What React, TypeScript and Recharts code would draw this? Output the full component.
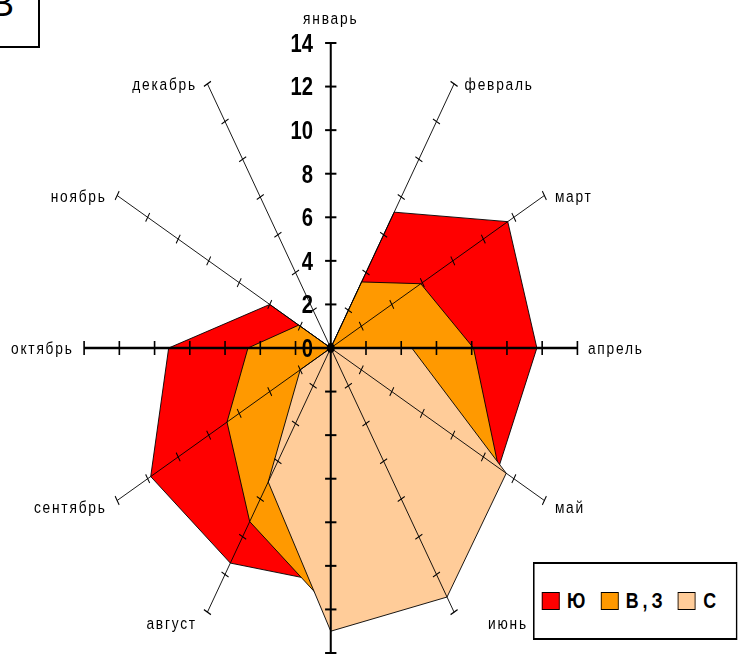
import React from "react";
import {
  RadarChart,
  Radar,
  PolarAngleAxis,
  PolarRadiusAxis,
  Legend,
} from "recharts";

// months clockwise from the top
const MONTHS = [
  "январь",
  "февраль",
  "март",
  "апрель",
  "май",
  "июнь",
  "июль",
  "август",
  "сентябрь",
  "октябрь",
  "ноябрь",
  "декабрь",
];

// Ю
const SOUTH = [0, 7.2, 11.6, 11.7, 11, 10, 10.8, 11.4, 11.8, 9.2, 4.0, 0];
// В,З
const EAST_WEST = [0, 3.5, 5.9, 8.1, 11, 11, 12, 9.2, 6.8, 4.7, 2.1, 0];
// С
const NORTH = [0, 0, 0, 4.6, 11.5, 13.2, 13, 7.1, 2.0, 0, 0, 0];

const VALUE_MAX = 14;

const SERIES = [
  { key: "yu", name: "Ю", color: "#FF0000", values: SOUTH },
  { key: "vz", name: "В,З", color: "#FF9900", values: EAST_WEST },
  { key: "s", name: "С", color: "#FFCC99", values: NORTH },
];

const data = MONTHS.map((month, i) => {
  const row: Record<string, string | number> = { month };
  SERIES.forEach((s) => {
    row[s.key] = s.values[i];
  });
  return row;
});

// the original picture is squeezed horizontally, so the chart is drawn
// round and then scaled on x
const SCALE_X = 0.8087;
const W = 915;
const H = 655;
const CX = 409;
const CY = 348;
const R = 305;
const RAD = Math.PI / 180;
const FONT = "'Liberation Sans', Arial, sans-serif";

function makeRadiusTick(angle: number, main: boolean, labelled: boolean) {
  return function RadiusTick(props: any) {
    const { x, y, payload } = props;
    const v = payload.value;
    const px = Math.sin(angle * RAD);
    const py = Math.cos(angle * RAD);
    const h = main ? 7 : 5;
    return (
      <g>
        {v > 0 && (
          <line
            x1={x - px * h}
            y1={y - py * h}
            x2={x + px * h}
            y2={y + py * h}
            stroke="#000"
            strokeWidth={main ? 2 : 1.2}
          />
        )}
        {labelled && (
          <text
            x={x - 22}
            y={y}
            textAnchor="end"
            dominantBaseline="central"
            fontSize={25}
            fontWeight="bold"
            fontFamily={FONT}
            fill="#000">
            {v}
          </text>
        )}
        {labelled && v === 0 && <circle cx={x} cy={y} r={5} fill="#000" />}
      </g>
    );
  };
}

function MonthTick(props: any) {
  const { payload } = props;
  const a = payload.coordinate * RAD;
  const c = Math.cos(a);
  const s = Math.sin(a);
  const ex = CX + R * c;
  const ey = CY - R * s;
  let x = ex;
  let y = ey;
  let anchor: "start" | "middle" | "end" = "middle";
  if (Math.abs(c) < 1e-3) {
    y = s > 0 ? ey - 25 : ey + 25;
  } else {
    anchor = c > 0 ? "start" : "end";
    x = ex + (c > 0 ? 13 : -13);
    y = ey + (s < 0 ? -s * 12 : 0);
  }
  // the bottom label falls outside the picture, as in the original
  if (y > H) return null;
  // excel pushed the june label a little further out
  if (payload.value === "июнь") x += 29;
  return (
    <text
      x={x}
      y={y}
      textAnchor={anchor}
      dominantBaseline="central"
      fontSize={17}
      letterSpacing={2.2}
      fontFamily={FONT}
      fill="#000">
      {payload.value}
    </text>
  );
}

function LegendBox() {
  return (
    <div
      style={{
        boxSizing: "border-box",
        width: 253,
        height: 78,
        border: "2px solid #000",
        background: "#fff",
        display: "flex",
        alignItems: "center",
        paddingLeft: 9,
        fontFamily: FONT,
      }}>
      {SERIES.map((s) => (
        <div
          key={s.key}
          style={{ display: "flex", alignItems: "center", marginRight: 14 }}>
          <span
            style={{
              display: "inline-block",
              boxSizing: "border-box",
              width: 22,
              height: 18,
              background: s.color,
              border: "1px solid #000",
            }}
          />
          <span
            style={{
              fontWeight: "bold",
              fontSize: 22,
              letterSpacing: 5,
              marginLeft: 9,
            }}>
            {s.name}
          </span>
        </div>
      ))}
    </div>
  );
}

export default function App() {
  return (
    <div
      style={{
        position: "fixed",
        left: 0,
        top: 0,
        width: 740,
        height: 655,
        overflow: "hidden",
        background: "#fff",
      }}>
      <div
        style={{
          position: "absolute",
          left: 0,
          top: 0,
          width: W,
          height: H,
          transform: `scaleX(${SCALE_X})`,
          transformOrigin: "0 0",
        }}>
        <RadarChart
          width={W}
          height={H}
          data={data}
          cx={CX}
          cy={CY}
          outerRadius={R}
          startAngle={90}
          endAngle={-270}
          margin={{ top: 0, right: 0, bottom: 0, left: 0 }}>
          {SERIES.map((s) => (
            <Radar
              key={s.key}
              name={s.name}
              dataKey={s.key}
              stroke="#000"
              strokeWidth={1}
              fill={s.color}
              fillOpacity={1}
              dot={false}
              isAnimationActive={false}
            />
          ))}
          <PolarAngleAxis
            dataKey="month"
            axisLine={false}
            tickLine={false}
            tick={<MonthTick />}
          />
          {MONTHS.map((m, i) => {
            const angle = 90 - 30 * i;
            const main = i % 3 === 0;
            return (
              <PolarRadiusAxis
                key={m}
                radiusAxisId={i}
                angle={angle}
                type="number"
                domain={[0, VALUE_MAX]}
                allowDataOverflow
                tickCount={8}
                axisLine={{ stroke: "#000", strokeWidth: main ? 2.5 : 1 }}
                stroke="#000"
                tick={makeRadiusTick(angle, main, i === 0)}
              />
            );
          })}
          <Legend
            content={<LegendBox />}
            wrapperStyle={{ position: "absolute", left: 659, top: 562, width: 253, height: 78 }}
          />
        </RadarChart>
      </div>
      <div
        style={{
          position: "absolute",
          left: -44,
          top: -12,
          width: 84,
          height: 60,
          boxSizing: "border-box",
          border: "2px solid #000",
          background: "#fff",
          overflow: "hidden",
        }}>
        <span
          style={{
            position: "absolute",
            right: 24,
            top: -4,
            fontSize: 36,
            fontFamily: FONT,
            lineHeight: 1,
          }}>
          В
        </span>
      </div>
    </div>
  );
}
